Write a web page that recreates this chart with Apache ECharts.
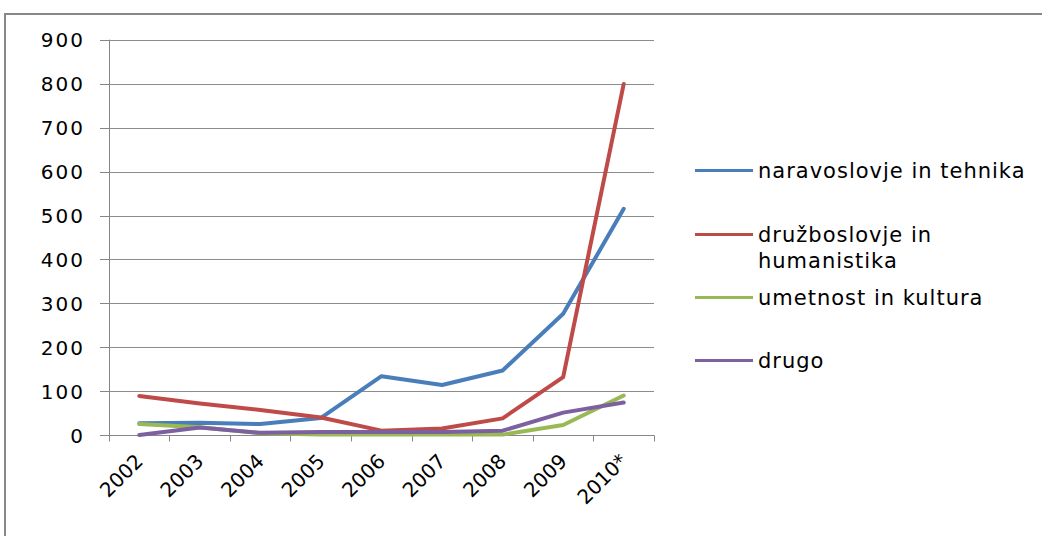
<!DOCTYPE html>
<html>
<head>
<meta charset="utf-8">
<script src="https://cdn.jsdelivr.net/npm/echarts@6/dist/echarts.min.js"></script>
<style>
html,body{margin:0;padding:0;background:#fff;}
#c{width:1042px;height:536px;}
</style>
</head>
<body>
<div id="c"></div>
<script>
const categories = ['2002','2003','2004','2005','2006','2007','2008','2009','2010*'];
const yTicks = {min: 0, max: 900, interval: 100};
const seriesNames = ['naravoslovje in tehnika','družboslovje in humanistika','umetnost in kultura','drugo'];
const naravoslovje = [28, 29, 26, 40, 135, 115, 148, 277, 516];
const druzboslovje = [90, 73, 58, 41, 11, 16, 39, 133, 800];
const umetnost = [26, 19, 5, 2, 2, 2, 2, 24, 91];
const drugo = [1, 18, 6, 8, 8, 8, 11, 52, 75];
const colors = ['#4A7EBB', '#BE4B48', '#98B954', '#7D60A0'];

const FONT = 'DejaVu Sans, sans-serif';
const chart = echarts.init(document.getElementById('c'), null, {renderer: 'svg'});

function mkSeries(name, data, color) {
  return {
    name: name, type: 'line', data: data, symbol: 'none', smooth: false,
    lineStyle: {color: color, width: 4, cap: 'round', join: 'round'},
    itemStyle: {color: color}
  };
}
function mkLegend(name, top, fmt) {
  return {
    data: [name], left: 695, top: top, padding: 0, orient: 'vertical',
    icon: 'rect', itemWidth: 58, itemHeight: 3, selectedMode: false,
    textStyle: {fontFamily: FONT, fontSize: 21, color: '#000'},
    formatter: fmt || undefined
  };
}

chart.setOption({
  animation: false,
  backgroundColor: '#fff',
  graphic: [
    {type: 'rect', shape: {x: 5, y: 14, width: 1100, height: 600},
     style: {fill: 'none', stroke: '#878787', lineWidth: 2}, silent: true},
    {type: 'text', left: 758, top: 250,
     style: {text: 'humanistika', fontFamily: FONT, fontSize: 21, fill: '#000'}}
  ],
  legend: [
    mkLegend(seriesNames[0], 160),
    mkLegend(seriesNames[1], 224, function(){ return 'družboslovje in'; }),
    mkLegend(seriesNames[2], 287),
    mkLegend(seriesNames[3], 350)
  ],
  grid: {left: 109, right: 388, top: 40, bottom: 100.5, containLabel: false},
  xAxis: {
    type: 'category', data: categories, boundaryGap: true,
    axisLine: {lineStyle: {color: '#868686', width: 1}},
    axisTick: {show: true, length: 6, lineStyle: {color: '#868686'}},
    axisLabel: {rotate: 45, fontFamily: FONT, fontSize: 20, color: '#000', margin: 22, interval: 0}
  },
  yAxis: {
    type: 'value', min: yTicks.min, max: yTicks.max, interval: yTicks.interval,
    axisLine: {show: true, lineStyle: {color: '#868686', width: 1}},
    axisTick: {show: true, length: 9, lineStyle: {color: '#868686'}},
    splitLine: {lineStyle: {color: '#8c8c8c', width: 1}},
    axisLabel: {fontFamily: FONT, fontSize: 20, color: '#000', margin: 24}
  },
  series: [
    mkSeries(seriesNames[0], naravoslovje, colors[0]),
    mkSeries(seriesNames[1], druzboslovje, colors[1]),
    mkSeries(seriesNames[2], umetnost, colors[2]),
    mkSeries(seriesNames[3], drugo, colors[3])
  ]
});

// Slightly wider text spacing as in the reference
const legendTexts = ['naravoslovje in tehnika', 'družboslovje in', 'humanistika', 'umetnost in kultura', 'drugo'];
const yLabelTexts = [];
for (let v = yTicks.min; v <= yTicks.max; v += yTicks.interval) yLabelTexts.push(String(v));
function applySpacing() {
  chart.getDom().querySelectorAll('text').forEach(function (t) {
    const s = t.textContent;
    if (legendTexts.indexOf(s) >= 0) t.setAttribute('letter-spacing', '1');
    else if (yLabelTexts.indexOf(s) >= 0) t.setAttribute('letter-spacing', '2');
  });
}
applySpacing();
chart.on('finished', applySpacing);
</script>
</body>
</html>
